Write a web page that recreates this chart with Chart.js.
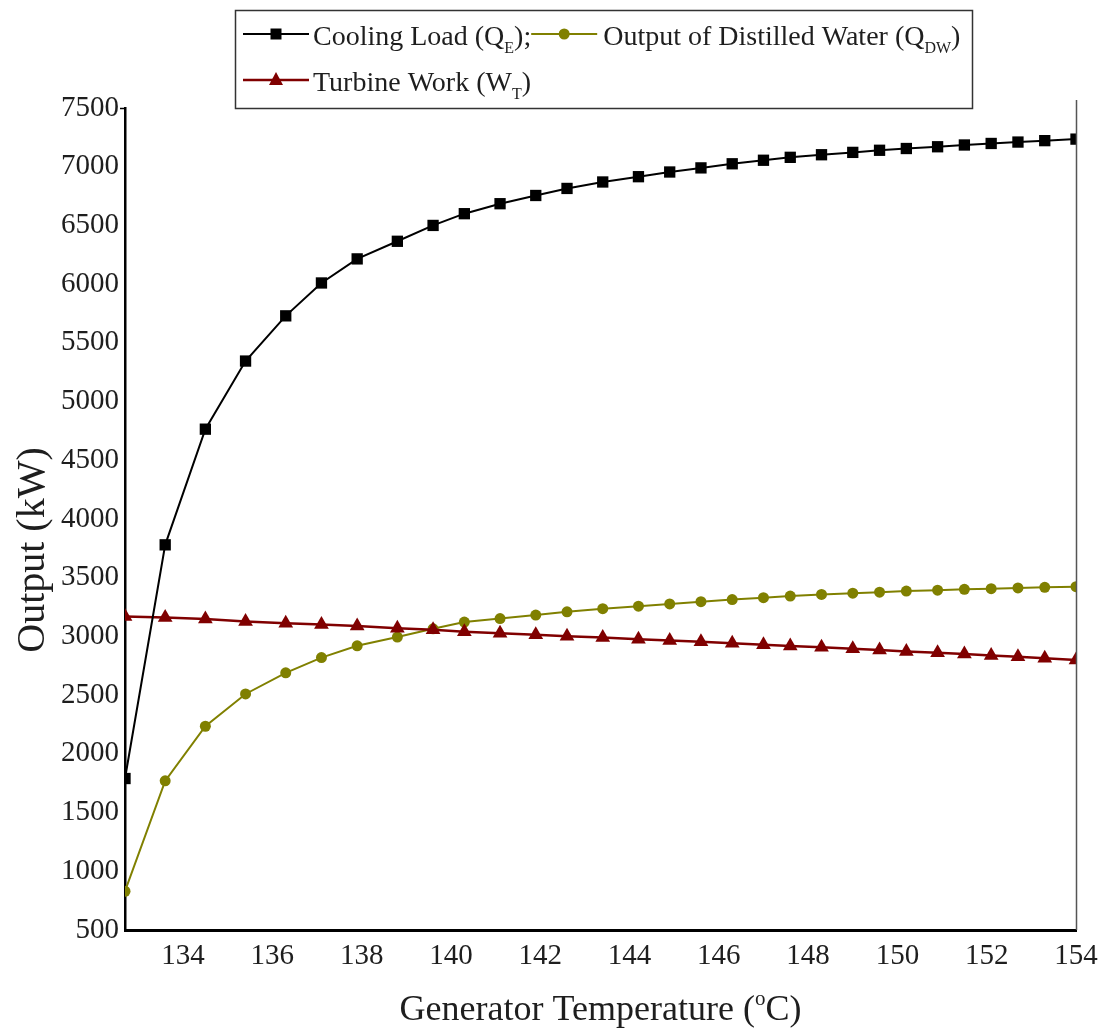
<!DOCTYPE html>
<html>
<head>
<meta charset="utf-8">
<title>Generator temperature vs. output</title>
<script src="https://cdn.jsdelivr.net/npm/chart.js@4.4.1/dist/chart.umd.min.js"></script>
<style>
  html, body { margin: 0; padding: 0; background: #fff; }
  #wrap { position: relative; width: 1109px; height: 1033px; }
</style>
</head>
<body>
<div id="wrap"><canvas id="chart"></canvas></div>
<script>
// Generator temperature (°C) at each simulated state point
const generatorTemp = [132.7, 133.6, 134.5, 135.4, 136.3, 137.1, 137.9, 138.8, 139.6, 140.3,
                       141.1, 141.9, 142.6, 143.4, 144.2, 144.9, 145.6, 146.3, 147.0, 147.6,
                       148.3, 149.0, 149.6, 150.2, 150.9, 151.5, 152.1, 152.7, 153.3, 154.0];

// Cooling load Q_E (kW)
const coolingLoad = [1790, 3780, 4765, 5345, 5730, 6010, 6215, 6365, 6500, 6600,
                     6685, 6755, 6815, 6870, 6915, 6955, 6990, 7025, 7055, 7080,
                     7102, 7122, 7140, 7155, 7170, 7185, 7198, 7210, 7222, 7235];

// Output of distilled water Q_DW (kW)
const distilledWater = [830, 1770, 2235, 2510, 2690, 2820, 2920, 2995, 3065, 3122,
                        3152, 3182, 3210, 3236, 3258, 3277, 3296, 3314, 3330, 3344,
                        3358, 3368, 3377, 3386, 3394, 3401, 3407, 3413, 3418, 3424];

// Turbine work W_T (kW)
const turbineWork = [3170, 3162, 3148, 3128, 3112, 3102, 3088, 3070, 3056, 3040,
                     3028, 3014, 3002, 2990, 2977, 2966, 2955, 2942, 2930, 2919,
                     2908, 2896, 2884, 2872, 2861, 2850, 2838, 2826, 2814, 2800];

const xTicks = [134, 136, 138, 140, 142, 144, 146, 148, 150, 152, 154];
const yMin = 500, yMax = 7500, yStep = 500;

const SERIF = "'Liberation Serif', 'Times New Roman', serif";
const TEXT = '#1e1e1e';
const COL_QE = '#000000';
const COL_QDW = '#808000';
const COL_WT = '#800000';

const toPoints = vals => vals.map((v, i) => ({ x: generatorTemp[i], y: v }));

// Draws one legend marker shape
function drawMarker(ctx, shape, x, y, color) {
  ctx.save();
  ctx.fillStyle = color;
  ctx.beginPath();
  if (shape === 'rect') {
    ctx.rect(x - 5.5, y - 5.5, 11, 11);
  } else if (shape === 'circle') {
    ctx.arc(x, y, 5.5, 0, Math.PI * 2);
  } else {
    ctx.moveTo(x, y - 8);
    ctx.lineTo(x + 7, y + 5);
    ctx.lineTo(x - 7, y + 5);
    ctx.closePath();
  }
  ctx.fill();
  ctx.restore();
}

// Writes text pieces with optional subscript/superscript, returns end x
function drawRich(ctx, parts, x, baseline, size) {
  let cx = x;
  for (const p of parts) {
    const s = p.sub || p.sup ? Math.round(size * 0.58) : size;
    ctx.font = s + 'px ' + SERIF;
    const dy = p.sub ? size * 0.3 : (p.sup ? -size * 0.42 : 0);
    ctx.fillText(p.t, cx, baseline + dy);
    cx += ctx.measureText(p.t).width;
  }
  return cx;
}

const decorations = {
  id: 'decorations',
  afterDraw(chart) {
    const { ctx, chartArea: a } = chart;
    ctx.save();

    // right frame line
    ctx.strokeStyle = '#555';
    ctx.lineWidth = 1.5;
    ctx.beginPath();
    ctx.moveTo(a.right + 0.5, a.top - 8);
    ctx.lineTo(a.right + 0.5, a.bottom);
    ctx.stroke();

    // legend box
    const bx = 235, by = 10, bw = 737, bh = a.top - by;
    ctx.strokeStyle = '#333';
    ctx.lineWidth = 1.5;
    ctx.strokeRect(bx + 0.5, by + 0.5, bw, bh);

    ctx.fillStyle = TEXT;
    ctx.textBaseline = 'alphabetic';
    ctx.textAlign = 'left';
    const fs = 28;

    const sample = (x0, y, color, shape, lw) => {
      ctx.strokeStyle = color;
      ctx.lineWidth = lw;
      ctx.beginPath();
      ctx.moveTo(x0, y);
      ctx.lineTo(x0 + 66, y);
      ctx.stroke();
      drawMarker(ctx, shape, x0 + 33, y, color);
      return x0 + 68;
    };

    // row 1
    let x = sample(243, 34, COL_QE, 'rect', 2);
    ctx.fillStyle = TEXT;
    x = drawRich(ctx, [{ t: 'Cooling Load (Q' }, { t: 'E', sub: true }, { t: ');' }], x + 2, 45, fs);
    x = sample(x, 34, COL_QDW, 'circle', 2);
    ctx.fillStyle = TEXT;
    drawRich(ctx, [{ t: 'Output of Distilled Water (Q' }, { t: 'DW', sub: true }, { t: ')' }], x + 4, 45, fs);

    // row 2
    x = sample(243, 80, COL_WT, 'tri', 2.5);
    ctx.fillStyle = TEXT;
    drawRich(ctx, [{ t: 'Turbine Work (W' }, { t: 'T', sub: true }, { t: ')' }], x + 2, 91, fs);

    // y-axis title
    ctx.save();
    ctx.translate(33, 550);
    ctx.rotate(-Math.PI / 2);
    ctx.font = '40px ' + SERIF;
    ctx.textAlign = 'center';
    ctx.textBaseline = 'middle';
    ctx.fillText('Output (kW)', 0, 0);
    ctx.restore();

    // x-axis title with superscript degree mark
    const parts = [{ t: 'Generator Temperature (' }, { t: 'o', sup: true }, { t: 'C)' }];
    const tfs = 36;
    let w = 0;
    for (const p of parts) {
      ctx.font = (p.sup ? Math.round(tfs * 0.58) : tfs) + 'px ' + SERIF;
      w += ctx.measureText(p.t).width;
    }
    ctx.textAlign = 'left';
    drawRich(ctx, parts, (a.left + a.right) / 2 - w / 2, 1020, tfs);

    ctx.restore();
  }
};

new Chart(document.getElementById('chart'), {
  type: 'line',
  data: {
    datasets: [
      {
        label: 'Cooling Load (QE)',
        data: toPoints(coolingLoad),
        borderColor: COL_QE,
        backgroundColor: COL_QE,
        borderWidth: 2,
        pointStyle: 'rect',
        pointRadius: 8,
        pointBorderWidth: 0,
        order: 0
      },
      {
        label: 'Output of Distilled Water (QDW)',
        data: toPoints(distilledWater),
        borderColor: COL_QDW,
        backgroundColor: COL_QDW,
        borderWidth: 2,
        pointStyle: 'circle',
        pointRadius: 5.5,
        pointBorderWidth: 0,
        order: 2
      },
      {
        label: 'Turbine Work (WT)',
        data: toPoints(turbineWork),
        borderColor: COL_WT,
        backgroundColor: COL_WT,
        borderWidth: 2.5,
        pointStyle: 'triangle',
        pointRadius: 8.5,
        pointBorderWidth: 0,
        order: 1
      }
    ]
  },
  options: {
    responsive: true,
    maintainAspectRatio: false,
    animation: false,
    layout: { padding: { top: 108, right: 33, left: 0, bottom: 0 } },
    elements: { line: { tension: 0 } },
    plugins: {
      legend: { display: false },
      tooltip: { enabled: false }
    },
    scales: {
      x: {
        type: 'linear',
        min: 132.7,
        max: 154,
        afterBuildTicks: s => { s.ticks = xTicks.map(v => ({ value: v })); },
        afterFit: s => { s.height = 103; },
        border: { display: true, color: '#000', width: 3 },
        grid: { drawOnChartArea: false, drawTicks: false },
        ticks: {
          padding: 9,
          color: TEXT,
          font: { family: SERIF, size: 29 },
          maxRotation: 0,
          autoSkip: false,
          callback: v => String(v)
        }
      },
      y: {
        min: yMin,
        max: yMax,
        afterFit: s => { s.width = 125; },
        border: { display: true, color: '#000', width: 2.5 },
        grid: {
          drawOnChartArea: false,
          drawTicks: true,
          tickLength: 5,
          tickWidth: 1.5,
          tickColor: c => (c.tick && c.tick.value === yMax ? '#000' : 'rgba(0,0,0,0)')
        },
        ticks: {
          stepSize: yStep,
          padding: 1,
          color: TEXT,
          font: { family: SERIF, size: 29 },
          callback: v => String(v)
        }
      }
    }
  },
  plugins: [decorations]
});
</script>
</body>
</html>
